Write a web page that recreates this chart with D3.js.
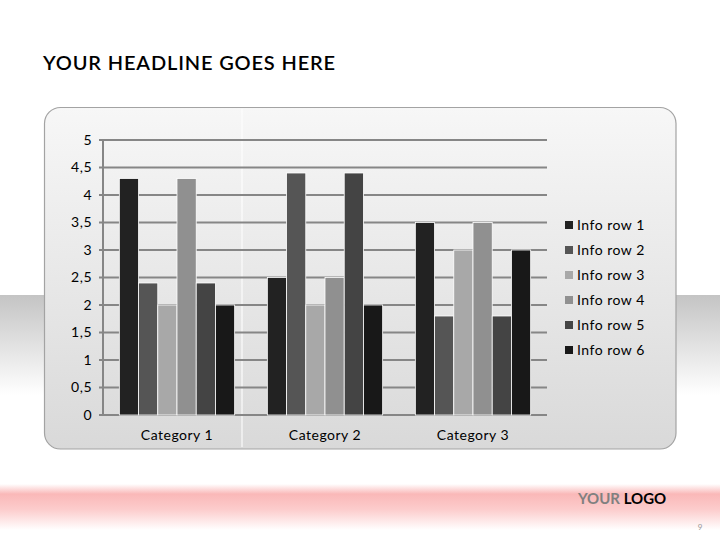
<!DOCTYPE html>
<html><head><meta charset="utf-8">
<script src="https://cdn.jsdelivr.net/npm/d3@7"></script>
<style>
html,body{margin:0;padding:0;background:#fff;}
svg{display:block;}
text{font-family:Lato,"Open Sans",sans-serif;}
</style></head>
<body>
<svg id="c" width="720" height="540"></svg>
<script>
const title = "YOUR HEADLINE GOES HERE";
const categories = ["Category 1", "Category 2", "Category 3"];
const seriesNames = ["Info row 1", "Info row 2", "Info row 3", "Info row 4", "Info row 5", "Info row 6"];
const seriesColors = ["#222222", "#555555", "#a8a8a8", "#909090", "#444444", "#181818"];
const values = [
  [4.3, 2.5, 3.5],
  [2.4, 4.4, 1.8],
  [2.0, 2.0, 3.0],
  [4.3, 2.5, 3.5],
  [2.4, 4.4, 1.8],
  [2.0, 2.0, 3.0]
];
const yTicks = [0, 0.5, 1, 1.5, 2, 2.5, 3, 3.5, 4, 4.5, 5];
const yTickLabels = ["0", "0,5", "1", "1,5", "2", "2,5", "3", "3,5", "4", "4,5", "5"];

const svg = d3.select("#c");
const defs = svg.append("defs");

// background bands
const gb = defs.append("linearGradient").attr("id","gband").attr("x1",0).attr("y1",0).attr("x2",0).attr("y2",1);
gb.append("stop").attr("offset","0%").attr("stop-color","#c4c4c4");
gb.append("stop").attr("offset","100%").attr("stop-color","#ffffff");
svg.append("rect").attr("x",0).attr("y",295).attr("width",720).attr("height",100).attr("fill","url(#gband)");

const pb = defs.append("linearGradient").attr("id","pband").attr("x1",0).attr("y1",0).attr("x2",0).attr("y2",1);
pb.append("stop").attr("offset","0%").attr("stop-color","#ffffff");
pb.append("stop").attr("offset","22%").attr("stop-color","#fab8b8");
pb.append("stop").attr("offset","55%").attr("stop-color","#fccccc");
pb.append("stop").attr("offset","100%").attr("stop-color","#ffffff");
svg.append("rect").attr("x",0).attr("y",484).attr("width",720).attr("height",46).attr("fill","url(#pband)");

// panel
const pg = defs.append("linearGradient").attr("id","panel").attr("x1",0).attr("y1",0).attr("x2",0).attr("y2",1);
pg.append("stop").attr("offset","0%").attr("stop-color","#f7f7f7");
pg.append("stop").attr("offset","100%").attr("stop-color","#d9d9d9");
svg.append("rect").attr("x",44.5).attr("y",107.5).attr("width",631.5).attr("height",341.5)
  .attr("rx",16).attr("ry",16).attr("fill","url(#panel)").attr("stroke","#a3a3a3").attr("stroke-width",1.2);
svg.append("line").attr("x1",242).attr("x2",242).attr("y1",109).attr("y2",447)
  .attr("stroke","#ffffff").attr("stroke-width",1.2).attr("opacity",0.9);

// title
svg.append("text").attr("x",43).attr("y",70).text(title)
  .attr("font-family","'Open Sans',sans-serif").attr("font-weight",600).attr("font-size",20)
  .attr("letter-spacing",0.85).attr("fill","#000");

// scales
const plotL = 103, plotR = 547, plotT = 140, plotB = 415;
const x0 = d3.scaleBand().domain(categories).range([plotL, plotR]).padding(0);
const x1 = d3.scaleBand().domain(seriesNames).range([0, x0.bandwidth()]).paddingInner(0).paddingOuter(0.85);
const y = d3.scaleLinear().domain([0,5]).range([plotB, plotT]);

// grid
const grid = svg.append("g");
grid.selectAll("line").data(yTicks).join("line")
  .attr("x1",plotL-4).attr("x2",plotR).attr("y1",d=>y(d)).attr("y2",d=>y(d))
  .attr("stroke","#868686").attr("stroke-width",2);
grid.append("line").attr("x1",plotL).attr("x2",plotL).attr("y1",plotT).attr("y2",plotB)
  .attr("stroke","#868686").attr("stroke-width",2);

const lblFont = {family:"Lato,sans-serif", size:14, ls:0.5};

// y labels
const yAxis = d3.axisLeft(y).tickValues(yTicks).tickSize(0).tickPadding(0)
  .tickFormat((d,i)=>yTickLabels[i]);
const ya = svg.append("g").attr("transform",`translate(${92},0)`).call(yAxis);
ya.select(".domain").remove();
ya.selectAll("text").attr("font-family",lblFont.family).attr("font-size",lblFont.size)
  .attr("letter-spacing",lblFont.ls).attr("fill","#000");

// bars
const groups = svg.append("g").selectAll("g").data(categories).join("g")
  .attr("transform",d=>`translate(${x0(d)},0)`);
groups.selectAll("rect").data((c,ci)=>seriesNames.map((s,si)=>({s,si,v:values[si][ci]}))).join("rect")
  .attr("x",d=>x1(d.s)).attr("width",x1.bandwidth())
  .attr("y",d=>y(d.v)).attr("height",d=>y(0)-y(d.v))
  .attr("fill",d=>seriesColors[d.si]).attr("stroke","#ffffff").attr("stroke-width",0.8);

// x labels
const xAxis = d3.axisBottom(x0).tickSize(0).tickPadding(0);
const xa = svg.append("g").attr("transform",`translate(0,${430})`).call(xAxis);
xa.select(".domain").remove();
xa.selectAll("text").attr("font-family",lblFont.family).attr("font-size",lblFont.size)
  .attr("letter-spacing",lblFont.ls).attr("fill","#000");

// legend
const leg = svg.append("g").selectAll("g").data(seriesNames).join("g")
  .attr("transform",(d,i)=>`translate(565,${225+i*25})`);
leg.append("rect").attr("x",0).attr("y",-4).attr("width",8).attr("height",8).attr("fill",(d,i)=>seriesColors[i]);
leg.append("text").attr("x",12).attr("y",0).attr("dy","0.35em").text(d=>d)
  .attr("font-family",lblFont.family).attr("font-size",lblFont.size)
  .attr("letter-spacing",lblFont.ls).attr("fill","#000");

// logo
const logo = svg.append("text").attr("x",578).attr("y",504)
  .attr("font-family","'Open Sans',sans-serif").attr("font-weight",700).attr("font-size",15);
logo.append("tspan").text("YOUR ").attr("fill","#808080");
logo.append("tspan").text("LOGO").attr("fill","#000");

svg.append("text").attr("x",700).attr("y",530).attr("text-anchor","middle")
  .attr("font-size",8).attr("fill","#999").text("9");
</script>
</body></html>
